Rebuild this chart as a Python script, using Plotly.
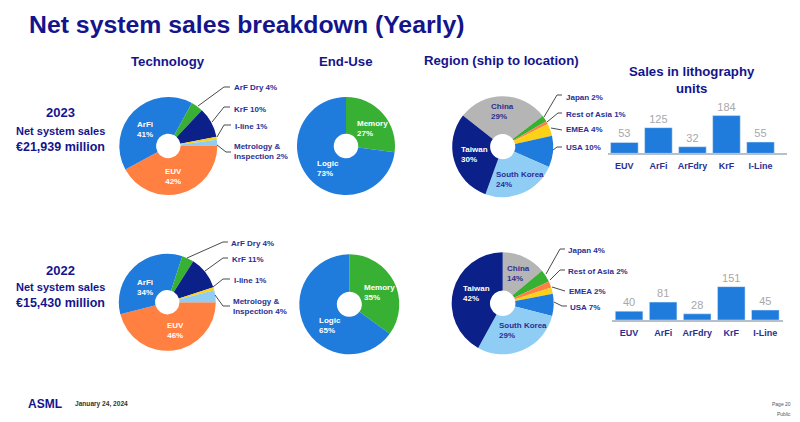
import plotly.graph_objects as go

W, H = 800, 422
NAVY = '#14148c'
LABEL = '#2b2f92'
BLUE = '#1f7bdc'
GREEN = '#38b034'
DARK = '#0b2088'
YELLOW = '#fcd116'
SKY = '#8fcdf5'
ORANGE = '#ff8040'
GREY = '#b5b5b5'

# technology split, clockwise from EUV
tech_names = ['EUV', 'ArFi', 'ArF Dry', 'KrF', 'I-line', 'Metrology & Inspection']
tech_2023 = [42, 41, 4, 10, 1, 2]
tech_2022 = [46, 34, 4, 11, 1, 4]
tech_colors = [ORANGE, BLUE, GREEN, DARK, YELLOW, SKY]

# end use split
use_names = ['Memory', 'Logic']
use_2023 = [27, 73]
use_2022 = [35, 65]
use_colors = [GREEN, BLUE]

# region split, clockwise from China
region_names = ['China', 'Japan', 'Rest of Asia', 'EMEA', 'USA', 'South Korea', 'Taiwan']
region_2023 = [29, 2, 1, 4, 10, 24, 30]
region_2022 = [14, 4, 2, 2, 7, 29, 42]
region_colors = [GREY, GREEN, ORANGE, YELLOW, BLUE, SKY, DARK]

# lithography units
unit_names = ['EUV', 'ArFi', 'ArFdry', 'KrF', 'I-Line']
units_2023 = [53, 125, 32, 184, 55]
units_2022 = [40, 81, 28, 151, 45]


def px(x):
    return x / W


def py(y):
    return 1 - y / H


def add_pie(names, values, colors, cx, cy, r, rotation):
    fig.add_trace(go.Pie(labels=names, values=values, sort=False, direction='clockwise',
                         rotation=rotation, hole=0.25, textinfo='none', showlegend=False,
                         marker=dict(colors=colors, line=dict(width=0)),
                         domain=dict(x=[px(cx - r), px(cx + r)], y=[py(cy + r), py(cy - r)])))


def note(x, y, text, size=8, color=LABEL, align='left', bold=True):
    if bold:
        text = '<b>' + text.replace('<br>', '</b><br><b>') + '</b>'
    # annotations carry about 2px of padding around the text
    shift = {'left': -2, 'center': 0, 'right': 2}[align]
    fig.add_annotation(x=px(x + shift), y=py(y), xref='paper', yref='paper', text=text, showarrow=False,
                       xanchor=align, yanchor='middle', align=align,
                       font=dict(size=size, color=color, family='Liberation Sans'))


def leader(points):
    path = 'M ' + ' L '.join('{} {}'.format(px(a), py(b)) for a, b in points)
    fig.add_shape(type='path', path=path, xref='paper', yref='paper',
                  line=dict(color='#4a4a4a', width=1))


fig = go.Figure()

add_pie(tech_names, tech_2023, tech_colors, 168.3, 146, 49, 90)
add_pie(use_names, use_2023, use_colors, 346, 146, 49, 0)
add_pie(region_names, region_2023, region_colors, 502.7, 146.7, 50.5, 308)
add_pie(tech_names, tech_2022, tech_colors, 167.3, 302.3, 48.5, 90)
add_pie(use_names, use_2022, use_colors, 349.3, 304.3, 50, 0)
add_pie(region_names, region_2022, region_colors, 502.7, 303.3, 51, 0)

fig.add_trace(go.Bar(x=unit_names, y=units_2023, text=units_2023, xaxis='x', yaxis='y'))
fig.add_trace(go.Bar(x=unit_names, y=units_2022, text=units_2022, xaxis='x2', yaxis='y2'))
fig.update_traces(selector=dict(type='bar'), marker_color=BLUE, textposition='outside',
                  cliponaxis=False, showlegend=False,
                  textfont=dict(size=11, color='#a8a8a8', family='Liberation Sans'))

axis_x = dict(type='category', showgrid=False, ticks='outside', ticklen=3, tickcolor='rgba(0,0,0,0)',
              showline=True, linecolor='#b4c0cc', linewidth=1.5,
              tickfont=dict(size=9, color=LABEL, family='Liberation Sans'), tickprefix='<b>', ticksuffix='</b>')
axis_y = dict(visible=False, showgrid=False, zeroline=False)

fig.update_layout(
    width=W, height=H, margin=dict(l=0, r=0, t=0, b=0), paper_bgcolor='white', plot_bgcolor='white',
    bargap=0.19, showlegend=False,
    xaxis=dict(axis_x, domain=[px(607.7), px(786.7)], range=[-0.49, 4.77]),
    yaxis=dict(axis_y, domain=[py(153.3), py(100)], range=[0, 260]),
    xaxis2=dict(axis_x, domain=[px(611.7), px(782.7)], range=[-0.51, 4.51], anchor='y2'),
    yaxis2=dict(axis_y, domain=[py(320), py(267)], range=[0, 240], anchor='x2'),
)

# headings
note(29, 24, 'Net system sales breakdown (Yearly)', size=24.8, color=NAVY)
note(168, 61, 'Technology', size=13.2, color=NAVY, align='center')
note(346, 61, 'End-Use', size=13.2, color=NAVY, align='center')
note(502, 60, 'Region (ship to location)', size=13.2, color=NAVY, align='center')
note(692, 80, 'Sales in lithography<br>units', size=13.2, color=NAVY, align='center')

note(60, 113, '2023', size=13, color=NAVY, align='center')
note(60, 131, 'Net system sales', size=11, color=NAVY, align='center')
note(60, 147, '€21,939 million', size=12.5, color=NAVY, align='center')
note(60, 270, '2022', size=13, color=NAVY, align='center')
note(60, 287, 'Net system sales', size=11, color=NAVY, align='center')
note(60, 303, '€15,430 million', size=12.5, color=NAVY, align='center')

# labels inside the pies
note(145, 129, 'ArFi<br>41%', color='white', align='center')
note(173.7, 176, 'EUV<br>42%', color='white', align='center')
note(357, 128, 'Memory<br>27%', color='white')
note(317, 168, 'Logic<br>73%', color='white')
note(491, 111.5, 'China<br>29%')
note(461, 154, 'Taiwan<br>30%', color='white')
note(496, 180, 'South Korea<br>24%')

note(145, 287, 'ArFi<br>34%', color='white', align='center')
note(175, 330, 'EUV<br>46%', color='white', align='center')
note(364, 292, 'Memory<br>35%', color='white')
note(319, 325, 'Logic<br>65%', color='white')
note(507, 273, 'China<br>14%')
note(463, 293, 'Taiwan<br>42%', color='white')
note(499, 330, 'South Korea<br>29%')

# callouts on the 2023 row
note(234, 88, 'ArF Dry 4%')
note(234, 109, 'KrF 10%')
note(235, 127, 'I-line 1%')
note(234, 152, 'Metrology &<br>Inspection 2%')
note(566, 97, 'Japan 2%')
note(566, 114, 'Rest of Asia 1%')
note(566, 130, 'EMEA 4%')
note(566, 147, 'USA 10%')

leader([(198, 106), (224, 87), (230, 87)])
leader([(212, 122), (224, 107), (230, 107)])
leader([(217, 137), (224, 125), (231, 125)])
leader([(217, 145), (226, 152), (231, 152)])
leader([(544, 117), (557, 95), (562, 95)])
leader([(547, 122), (558, 113), (562, 113)])
leader([(551, 128), (562, 130)])
leader([(553, 150), (557, 147), (562, 147)])

# callouts on the 2022 row
note(231, 243, 'ArF Dry 4%')
note(232, 259, 'KrF 11%')
note(234, 280, 'I-line 1%')
note(233, 306, 'Metrology &<br>Inspection 4%')
note(568, 250, 'Japan 4%')
note(568, 271, 'Rest of Asia 2%')
note(569, 291, 'EMEA 2%')
note(570, 307, 'USA 7%')

leader([(187, 258), (223, 242), (228, 242)])
leader([(205, 271), (223, 258), (228, 258)])
leader([(213, 287), (223, 279), (230, 279)])
leader([(215, 295), (223, 306), (230, 306)])
leader([(546, 274), (560, 249), (565, 249)])
leader([(550, 280), (560, 270), (565, 270)])
leader([(552, 287), (565, 291)])
leader([(554, 302), (562, 306), (567, 306)])

# footer
note(28, 404, 'ASML', size=12, color=NAVY)
note(75, 404, 'January 24, 2024', size=6.6, color='#333333')
note(791, 404, 'Page 20', size=5, color='#555555', align='right', bold=False)
note(791, 414, 'Public', size=5, color='#555555', align='right', bold=False)

# the page's default body margin would push the fixed-size figure off the window
fig.write_html('out.html', config=dict(displayModeBar=False),
               post_script="document.body.style.margin = '0';")
